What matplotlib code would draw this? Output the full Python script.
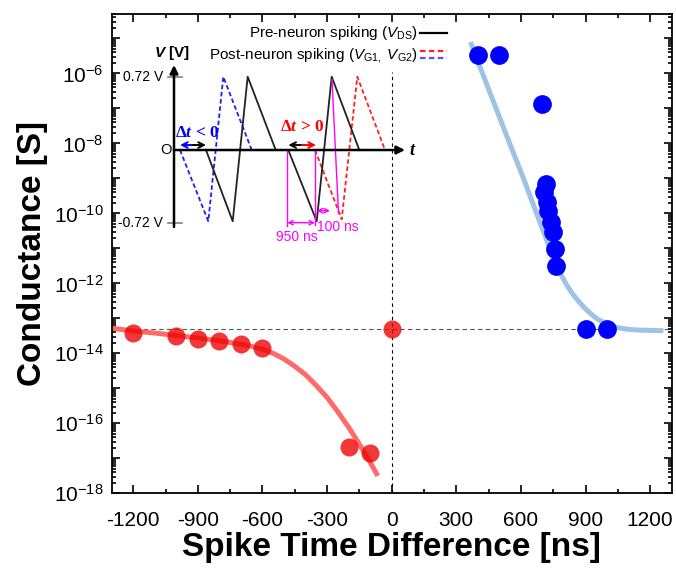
import numpy as np
import matplotlib.pyplot as plt
from matplotlib.ticker import LogLocator, MultipleLocator, FuncFormatter, NullFormatter

plt.rcParams['font.family'] = 'Liberation Sans'
plt.rcParams['axes.unicode_minus'] = False
plt.rcParams['mathtext.fontset'] = 'custom'
plt.rcParams['mathtext.rm'] = 'Liberation Sans'
plt.rcParams['mathtext.it'] = 'Liberation Sans:italic'
plt.rcParams['mathtext.sf'] = 'Liberation Sans:bold:italic'
plt.rcParams['mathtext.bf'] = 'Liberation Serif:bold'
plt.rcParams['mathtext.bfit'] = 'Liberation Serif:bold:italic'

red_x = [-1200, -1000, -900, -800, -700, -600, -200, -100, 0]
red_g = [3.8e-14, 3.1e-14, 2.6e-14, 2.2e-14, 1.9e-14, 1.4e-14, 2.1e-17, 1.4e-17, 5.1e-14]
blue_x = [400, 500, 700, 715, 707, 719, 727, 738, 747, 758, 761, 900, 1000]
blue_g = [3.4e-6, 3.4e-6, 1.3e-7, 6.9e-10, 4.0e-10, 2.1e-10, 1.2e-10, 5.6e-11,
          2.9e-11, 9.8e-12, 3.2e-12, 5.1e-14, 5.1e-14]

# fitted curves, log10(G)
red_fit_x = [-1290, -1200, -1100, -1000, -900, -800, -700, -650, -600, -550, -500,
             -450, -400, -350, -300, -250, -200, -150, -100, -70]
red_fit_log = [-13.29, -13.36, -13.42, -13.49, -13.56, -13.64, -13.74, -13.80, -13.88,
               -14.00, -14.16, -14.37, -14.61, -14.92, -15.26, -15.67, -16.11, -16.60,
               -17.11, -17.44]
blue_fit_x = [370, 450, 530, 610, 690, 740, 780, 810, 840, 870, 900, 930, 960,
              1000, 1040, 1080, 1130, 1180, 1250]
blue_fit_log = [-5.17, -6.45, -7.72, -8.97, -10.28, -11.10, -11.68, -12.02, -12.30,
                -12.53, -12.73, -12.90, -13.04, -13.16, -13.25, -13.30, -13.33, -13.34, -13.35]
g_initial = 5.1e-14

x_ticks = [-1200, -900, -600, -300, 0, 300, 600, 900, 1200]

# inset schematic (arbitrary time units, volts)
pre_t1 = [32, 58.7, 73.7, 101.7]
pre_t2 = [114.3, 142.7, 157.7, 185.3]
pre_v = [0, -0.70, 0.72, 0]
post_blue_t = [6, 34.3, 49.3, 77.7]
post_blue_v = [0, -0.70, 0.72, 0]
post_red_t = [141, 167.7, 183.3, 211]
post_red_v = [0, -0.68, 0.72, 0]

fig = plt.figure(figsize=(6.76, 5.68), dpi=100)
ax = fig.add_axes([0.1652, 0.1315, 0.8284, 0.8439])
ax.set_yscale('log')
ax.set_xlim(-1300, 1300)
ax.set_ylim(1e-18, 5e-5)

ax.axhline(g_initial, color='#555555', lw=0.8, ls=(0, (4, 3)), zorder=1)
ax.axvline(0, ymax=0.879, color='black', lw=0.8, ls=(0, (3, 3)), zorder=1)

ax.plot(red_fit_x, 10 ** np.array(red_fit_log), color='#ff6b6b', lw=3.6, zorder=2)
ax.plot(blue_fit_x, 10 ** np.array(blue_fit_log), color='#9dc3e6', lw=3.6, zorder=2)
ax.plot(red_x, red_g, 'o', ms=13, color='#ee0000', alpha=0.78, mec='none', zorder=3)
ax.plot(blue_x, blue_g, 'o', ms=13.5, color='#0000ff', mec='none', zorder=3)

ax.set_xticks(x_ticks)
ax.set_xticklabels([str(v) for v in x_ticks])
ax.xaxis.set_minor_locator(MultipleLocator(150))
ax.yaxis.set_major_locator(LogLocator(base=10, numticks=30))
ax.yaxis.set_minor_locator(LogLocator(base=10, subs=np.arange(2, 10), numticks=30))
ax.yaxis.set_minor_formatter(NullFormatter())


def ylab(v, pos):
    e = int(round(np.log10(v)))
    if e % 2:
        return ''
    return r'$\mathregular{10^{%d}}$' % e


ax.yaxis.set_major_formatter(FuncFormatter(ylab))
ax.tick_params(which='both', direction='in', top=True, right=True, width=1.2)
ax.tick_params(which='major', length=6, labelsize=15)
ax.tick_params(which='minor', length=3)
ax.tick_params(axis='x', pad=13)
ax.tick_params(axis='y', pad=6)
for s in ax.spines.values():
    s.set_linewidth(1.3)

ax.set_xlabel('Spike Time Difference [ns]', fontsize=24, fontweight='bold', labelpad=1)
ax.set_ylabel('Conductance [S]', fontsize=24, fontweight='bold', labelpad=4)

# inset sketch of the spiking scheme
ins = fig.add_axes([145 / 676, (568 - 245) / 568, 310 / 676, 225 / 568])
ins.set_xlim(-29, 281)
ins.set_ylim(-0.933, 1.277)
ins.axis('off')

dash = (0, (2.5, 1.5))
ins.plot(post_blue_t, post_blue_v, color='#2020ee', lw=1.3, ls=dash)
ins.plot(post_red_t, post_red_v, color='#ff2020', lw=1.3, ls=dash)
ins.plot(pre_t1, pre_v, color='#222222', lw=1.3)
ins.plot(pre_t2, pre_v, color='#222222', lw=1.3)

arr = dict(arrowstyle='-|>', lw=1.8, color='black', mutation_scale=12, shrinkA=0, shrinkB=0)
ins.annotate('', xy=(0, 0.835), xytext=(0, -0.756), arrowprops=arr)
ins.annotate('', xy=(231, 0), xytext=(0, 0), arrowprops=arr)
for lv in (0.72, -0.72):
    ins.plot([-6, 8], [lv, lv], color='#7080a0', lw=1.2)
ins.text(-11, 0.72, '0.72 V', ha='right', va='center', fontsize=10)
ins.text(-11, -0.72, '-0.72 V', ha='right', va='center', fontsize=10)
ins.text(-8.3, 0, 'O', ha='center', va='center', fontsize=10.5)
ins.text(-2.3, 0.95, r'$\mathsf{V}$ [V]', ha='center', va='center', fontsize=11, fontweight='bold')
ins.text(235, 0, r'$\mathbfit{t}$', ha='left', va='center', fontsize=13)

# delta t arrows, two-coloured
def half(x0, x1, col):
    ins.annotate('', xy=(x1, 0.049), xytext=(x0, 0.049),
                 arrowprops=dict(arrowstyle='->', color=col, lw=1.4, shrinkA=0, shrinkB=0,
                                 mutation_scale=10))


half(19, 6, 'blue')
half(19, 32, 'black')
half(128, 114.3, 'black')
half(128, 142, 'red')
ins.text(22.7, 0.163, r'$\mathbf{\Delta}\mathbfit{t}$ < 0', color='blue', fontsize=12.5,
         fontfamily='Liberation Serif', fontweight='bold', ha='center', va='center')
ins.text(127.7, 0.229, r'$\mathbf{\Delta}\mathbfit{t}$ > 0', color='red', fontsize=12.5,
         fontfamily='Liberation Serif', fontweight='bold', ha='center', va='center')

mag = '#ff00ff'
ins.plot([113.3, 113.3], [0, -0.75], color=mag, lw=1)
ins.plot([141, 141], [0, -0.74], color=mag, lw=1)
ins.plot([158, 164.5], [0.69, -0.62], color=mag, lw=1)
marr = dict(arrowstyle='<->', color=mag, lw=1, shrinkA=0, shrinkB=0, mutation_scale=8)
ins.annotate('', xy=(141, -0.714), xytext=(113.3, -0.714), arrowprops=marr)
ins.annotate('', xy=(156, -0.596), xytext=(142.7, -0.596), arrowprops=marr)
ins.text(122.7, -0.857, '950 ns', color=mag, fontsize=10, ha='center', va='center')
ins.text(164.3, -0.755, '100 ns', color=mag, fontsize=10, ha='center', va='center')

# legend of the sketch
ins.text(244, 1.146, r'Pre-neuron spiking ($\mathit{V}_{\mathrm{DS}}$)', ha='right',
         va='center', fontsize=11)
ins.text(244, 0.933, r'Post-neuron spiking ($\mathit{V}_{\mathrm{G1,}}$ $\mathit{V}_{\mathrm{G2}}$)',
         ha='right', va='center', fontsize=11)
ins.plot([246, 273], [1.146, 1.146], color='black', lw=1.6, clip_on=False)
ins.plot([246, 273], [0.973, 0.973], color='#ff2020', lw=1.6, ls=dash, clip_on=False)
ins.plot([246, 273], [0.901, 0.901], color='#5555ff', lw=1.6, ls=dash, clip_on=False)

fig.savefig('out.png', dpi=100)
